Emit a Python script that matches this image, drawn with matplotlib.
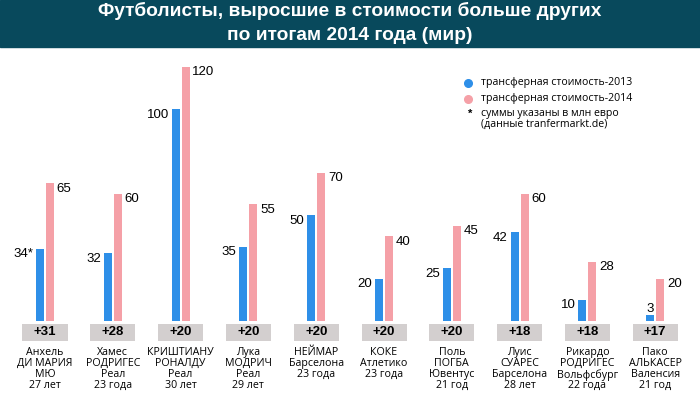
import numpy as np
import matplotlib.pyplot as plt
from matplotlib.patches import Rectangle
from matplotlib.lines import Line2D

# player names (name / surname / club / age)
players = [
    "Анхель\nДИ МАРИЯ\nМЮ\n27 лет",
    "Хамес\nРОДРИГЕС\nРеал\n23 года",
    "КРИШТИАНУ\nРОНАЛДУ\nРеал\n30 лет",
    "Лука\nМОДРИЧ\nРеал\n29 лет",
    "НЕЙМАР\nБарселона\n23 года",
    "КОКЕ\nАтлетико\n23 года",
    "Поль\nПОГБА\nЮвентус\n21 год",
    "Луис\nСУАРЕС\nБарселона\n28 лет",
    "Рикардо\nРОДРИГЕС\nВольфсбург\n22 года",
    "Пако\nАЛЬКАСЕР\nВаленсия\n21 год",
]
value_2013 = [34, 32, 100, 35, 50, 20, 25, 42, 10, 3]
value_2014 = [65, 60, 120, 55, 70, 40, 45, 60, 28, 20]
labels_2013 = ["34*", "32", "100", "35", "50", "20", "25", "42", "10", "3"]

title_lines = ["Футболисты, выросшие в стоимости больше других", "по итогам 2014 года (мир)"]
legend_2013 = "трансферная стоимость-2013"
legend_2014 = "трансферная стоимость-2014"
note = "суммы указаны в млн евро\n(данные tranfermarkt.de)"

blue = "#2e8fe8"
pink = "#f5a0a7"
box_grey = "#d3cfcf"
header = "#08495c"

plt.rcParams['font.family'] = ['Liberation Sans', 'DejaVu Sans']
body = ['Open Sans', 'Liberation Sans', 'DejaVu Sans']

fig = plt.figure(figsize=(7, 3.97), dpi=100)
ax = fig.add_axes([0, 0, 1, 1])
ax.axis('off')

# scale: group spacing ~67.8px, 2.12px per million, baseline at 76px from bottom
ax.set_xlim(-45 / 67.8, (700 - 45) / 67.8)
ax.set_ylim(-76 / 2.12, (397 - 76) / 2.12)

x = np.arange(len(players))
w = 8 / 67.8
off = 5 / 67.8
ax.bar(x - off, value_2013, width=w, color=blue)
ax.bar(x + off, value_2014, width=w, color=pink)

for i in range(len(players)):
    v13, v14 = value_2013[i], value_2014[i]
    if v13 < 5:
        # tiny bar: label sits on top
        ax.annotate(labels_2013[i], (x[i] - off, v13), xytext=(0, 0), textcoords='offset points',
                    ha='center', va='bottom', fontsize=9.5)
    else:
        ax.annotate(labels_2013[i], (x[i] - off - w / 2, v13), xytext=(-2, -4), textcoords='offset points',
                    ha='right', va='center', fontsize=9.5)
    ax.annotate(str(v14), (x[i] + off + w / 2, v14), xytext=(2, -4), textcoords='offset points',
                ha='left', va='center', fontsize=9.5)

# grey boxes with the growth
diff = [b - a for a, b in zip(value_2013, value_2014)]
ax.bar(x, [-8.0] * len(x), bottom=-1.4, width=45 / 67.8, color=box_grey)
for i, d in enumerate(diff):
    ax.text(x[i], -5.4, "+%d" % d, ha='center', va='center', fontsize=9.5, fontweight='bold')
    ax.text(x[i], -12.3, players[i], ha='center', va='top', fontsize=7.7,
            linespacing=0.98, family=body)

# header band
fig.patches.append(Rectangle((0, 1 - 47 / 397), 1, 47 / 397, transform=fig.transFigure,
                             color=header, zorder=0))
for yy, line in zip([15.5, 39.5], title_lines):
    fig.text(0.5, 1 - yy / 397, line, ha='center', va='baseline', color='white',
             fontsize=13.8, fontweight='bold')

# legend
for yy, col, txt in [(83, blue, legend_2013), (99, pink, legend_2014)]:
    fig.lines.append(Line2D([468 / 700], [1 - yy / 397], transform=fig.transFigure,
                            marker='o', markersize=5.5, color=col, linestyle='none'))
    fig.text(481 / 700, 1 - yy / 397, txt, ha='left', va='center', fontsize=7.6, family=body)
fig.text(470 / 700, 1 - 114 / 397, "*", ha='center', va='center', fontsize=8, fontweight='bold')
fig.text(481 / 700, 1 - 119 / 397, note, ha='left', va='center', fontsize=7.6,
         linespacing=0.95, family=body)

fig.savefig("out.png", dpi=100)
